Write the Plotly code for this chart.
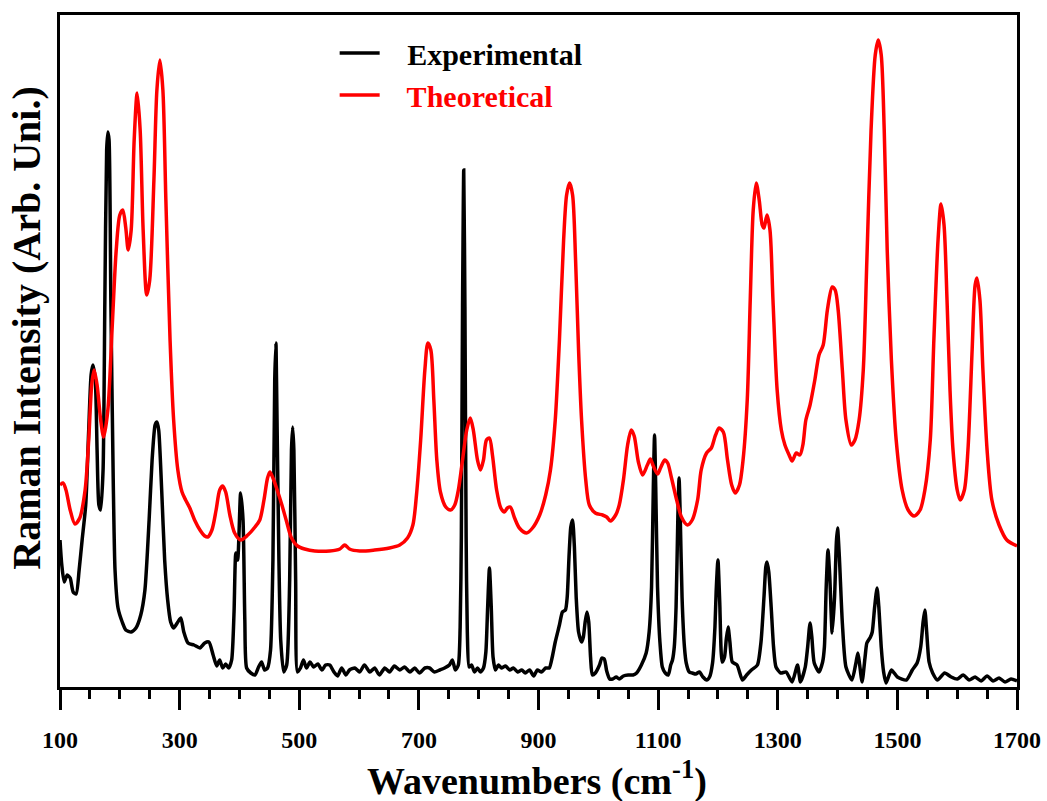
import plotly.graph_objects as go

# Experimental Raman spectrum (wavenumber in cm-1, intensity in arbitrary units)
exp_wavenumber = [
    100, 103, 107, 112, 117, 122, 127, 132, 137, 143, 148, 152, 155, 159, 162, 165, 168, 172, 175, 178,
    180, 182, 185, 189, 192, 197, 204, 210, 219, 227, 235, 242, 249, 254, 259, 262, 265, 270, 275, 280,
    285, 290, 297, 302, 307, 314, 324, 334, 342, 349, 356, 362, 367, 372, 377, 382, 387, 391, 394, 397,
    402, 406, 409, 412, 419, 426, 432, 437, 442, 447, 452, 456, 459, 461, 462, 466, 469, 474, 479, 484,
    487, 489, 491, 494, 497, 502, 507, 512, 518, 524, 531, 538, 544, 551, 558, 564, 571, 578, 584, 593,
    601, 609, 618, 626, 634, 643, 651, 659, 668, 676, 685, 693, 701, 710, 718, 726, 735, 743, 751, 756,
    761, 766, 769, 771, 773, 775, 777, 779, 781, 784, 788, 793, 798, 803, 808, 812, 815, 818, 821, 824,
    828, 833, 838, 845, 852, 858, 865, 872, 878, 885, 892, 898, 905, 912, 918, 923, 928, 935, 940, 945,
    948, 951, 954, 957, 960, 963, 967, 972, 975, 978, 981, 984, 987, 990, 995, 1002, 1006, 1010, 1014, 1019,
    1024, 1030, 1035, 1042, 1050, 1058, 1064, 1072, 1080, 1085, 1089, 1092, 1094, 1096, 1099, 1103, 1107, 1112, 1117, 1121,
    1124, 1127, 1130, 1133, 1135, 1137, 1140, 1144, 1147, 1152, 1157, 1163, 1169, 1175, 1181, 1186, 1191, 1195, 1197, 1200,
    1203, 1207, 1211, 1214, 1217, 1220, 1224, 1232, 1241, 1248, 1256, 1266, 1272, 1277, 1280, 1282, 1285, 1289, 1293, 1297,
    1305, 1314, 1324, 1333, 1338, 1346, 1350, 1354, 1357, 1361, 1369, 1375, 1378, 1381, 1384, 1387, 1391, 1395, 1398, 1400,
    1403, 1408, 1414, 1424, 1431, 1434, 1437, 1441, 1446, 1449, 1455, 1458, 1462, 1466, 1469, 1473, 1477, 1481, 1490, 1500,
    1515, 1525, 1533, 1539, 1543, 1546, 1549, 1553, 1559, 1567, 1579, 1590, 1600, 1610, 1620, 1630, 1640, 1650, 1660, 1670,
    1680, 1690, 1700,
]
exp_intensity = [
    147, 122, 105, 112, 109, 95, 93, 117, 147, 182, 257, 312, 322, 307, 237, 182, 177, 217, 387, 537,
    555, 547, 387, 207, 117, 79, 65, 57, 55, 59, 72, 97, 167, 227, 262, 265, 257, 197, 127, 87,
    65, 59, 65, 69, 55, 44, 42, 39, 44, 45, 32, 21, 27, 19, 23, 19, 27, 75, 134, 127,
    194, 167, 67, 19, 14, 12, 20, 25, 17, 19, 37, 127, 307, 344, 307, 127, 47, 15, 22, 107,
    237, 260, 237, 107, 15, 19, 27, 19, 25, 20, 23, 17, 22, 22, 15, 11, 19, 12, 17, 19,
    15, 22, 15, 19, 12, 19, 15, 21, 17, 20, 15, 19, 14, 19, 19, 15, 17, 19, 22, 27,
    17, 22, 60, 150, 380, 517, 380, 150, 55, 20, 22, 15, 19, 15, 19, 35, 80, 119, 80, 30,
    17, 22, 19, 21, 17, 19, 15, 17, 14, 17, 11, 17, 15, 19, 19, 30, 45, 62, 75, 77,
    90, 130, 160, 167, 140, 90, 55, 45, 50, 65, 75, 65, 30, 12, 14, 22, 29, 28, 16, 8,
    8, 10, 8, 11, 12, 12, 14, 22, 34, 55, 100, 200, 252, 200, 100, 45, 20, 14, 12, 22,
    27, 40, 80, 170, 209, 170, 90, 40, 24, 15, 14, 13, 15, 10, 7, 10, 24, 60, 95, 127,
    85, 25, 30, 48, 60, 45, 25, 22, 7, 12, 17, 22, 45, 90, 120, 125, 115, 80, 40, 20,
    14, 15, 5, 22, 5, 20, 40, 64, 50, 24, 15, 25, 40, 100, 137, 110, 54, 90, 145, 159,
    130, 64, 20, 7, 25, 34, 22, 5, 30, 44, 50, 55, 80, 99, 80, 40, 15, 4, 17, 10,
    7, 17, 24, 40, 65, 77, 55, 25, 14, 7, 14, 10, 8, 12, 7, 10, 6, 11, 6, 9,
    5, 8, 6,
]

# Calculated (theoretical) Raman spectrum
theo_wavenumber = [
    100, 105, 110, 117, 125, 133, 142, 148, 153, 157, 162, 168, 173, 180, 187, 194, 200, 205, 210, 214,
    219, 224, 229, 234, 239, 245, 250, 257, 262, 267, 272, 277, 284, 290, 297, 304, 310, 317, 325, 334,
    342, 347, 354, 361, 367, 372, 377, 384, 392, 402, 414, 426, 434, 441, 447, 451, 456, 462, 471, 479,
    487, 497, 509, 526, 551, 568, 576, 584, 601, 626, 651, 668, 681, 690, 696, 703, 710, 715, 720, 725,
    730, 736, 745, 753, 760, 766, 773, 780, 786, 791, 798, 803, 808, 813, 818, 823, 830, 837, 843, 848,
    853, 860, 868, 880, 890, 902, 912, 920, 928, 935, 942, 947, 952, 957, 962, 967, 972, 979, 985, 995,
    1007, 1014, 1020, 1029, 1035, 1042, 1049, 1055, 1060, 1067, 1074, 1082, 1087, 1092, 1099, 1104, 1111, 1116, 1122, 1131,
    1139, 1149, 1157, 1166, 1172, 1181, 1189, 1196, 1202, 1209, 1216, 1223, 1229, 1236, 1242, 1249, 1254, 1259, 1264, 1269,
    1274, 1277, 1282, 1287, 1292, 1299, 1306, 1312, 1319, 1324, 1331, 1337, 1342, 1347, 1354, 1362, 1369, 1376, 1383, 1391,
    1396, 1401, 1408, 1414, 1423, 1429, 1436, 1443, 1449, 1456, 1463, 1468, 1473, 1478, 1483, 1490, 1498, 1508, 1518, 1528,
    1538, 1546, 1555, 1561, 1568, 1573, 1578, 1583, 1588, 1593, 1600, 1605, 1612, 1618, 1625, 1630, 1633, 1638, 1643, 1650,
    1658, 1670, 1683, 1700,
]
theo_intensity = [
    202, 204, 197, 177, 163, 169, 197, 247, 302, 317, 302, 267, 250, 277, 357, 437, 472, 477, 459, 437,
    457, 547, 594, 557, 457, 392, 407, 507, 597, 627, 597, 487, 347, 267, 217, 195, 187, 179, 167, 157,
    151, 150, 157, 177, 197, 201, 195, 172, 154, 147, 152, 160, 167, 187, 209, 215, 209, 199, 182, 165,
    149, 141, 138, 136, 136, 138, 142, 138, 136, 137, 139, 142, 149, 162, 192, 247, 317, 344, 337, 287,
    227, 195, 180, 177, 182, 197, 227, 257, 269, 257, 227, 217, 227, 247, 249, 232, 197, 179, 175, 179,
    180, 169, 159, 154, 159, 172, 192, 217, 267, 347, 447, 492, 504, 492, 427, 337, 267, 207, 182, 174,
    172, 170, 166, 172, 182, 207, 242, 257, 251, 225, 212, 222, 228, 221, 213, 219, 227, 224, 210, 187,
    170, 162, 167, 187, 217, 234, 239, 252, 259, 255, 227, 202, 194, 202, 227, 287, 387, 477, 504, 487,
    462, 459, 472, 457, 387, 297, 257, 242, 232, 226, 234, 232, 242, 267, 282, 307, 332, 342, 377, 400,
    397, 377, 317, 267, 242, 247, 267, 317, 427, 557, 632, 647, 632, 557, 437, 327, 247, 197, 177, 171,
    177, 197, 247, 347, 447, 483, 462, 387, 297, 237, 197, 187, 197, 237, 337, 402, 409, 387, 317, 237,
    187, 162, 147, 141,
]

tick_values = [100, 300, 500, 700, 900, 1100, 1300, 1500, 1700]
tick_labels = [str(v) for v in tick_values]

serif = "Liberation Serif, Times New Roman, serif"

fig = go.Figure()
fig.add_trace(go.Scatter(
    x=exp_wavenumber, y=exp_intensity, mode="lines",
    name="   Experimental",
    line=dict(color="black", width=3.5, shape="spline", smoothing=0.6),
))
fig.add_trace(go.Scatter(
    x=theo_wavenumber, y=theo_intensity, mode="lines",
    name="<span style='color:#ff0000'>   Theoretical</span>",
    line=dict(color="#ff0000", width=3.5, shape="spline", smoothing=0.8),
))

fig.update_layout(
    width=1047, height=801,
    margin=dict(l=60, r=30, t=15, b=114, autoexpand=False),
    paper_bgcolor="white", plot_bgcolor="white",
    font=dict(family=serif, color="black"),
    showlegend=True,
    legend=dict(
        x=0.287, y=0.982, xanchor="left", yanchor="top",
        bgcolor="rgba(0,0,0,0)",
        font=dict(family=serif, size=30, color="black", weight="bold"),
        itemwidth=40, tracegroupgap=0,
    ),
    xaxis=dict(
        range=[100, 1700], showgrid=False, zeroline=False, automargin=False,
        showline=True, linecolor="black", linewidth=3, mirror=True,
        tickmode="array", tickvals=tick_values, ticktext=tick_labels,
        ticks="outside", ticklen=20, tickwidth=2.5, tickcolor="black",
        ticklabelstandoff=9, ticklabeloverflow="allow",
        tickfont=dict(family=serif, size=24, color="black", weight="bold"),
        minor=dict(dtick=50, tick0=100, ticks="outside", ticklen=9, tickwidth=2.5, tickcolor="black"),
    ),
    yaxis=dict(
        range=[0, 672], showgrid=False, zeroline=False, automargin=False,
        showline=True, linecolor="black", linewidth=3, mirror=True,
        showticklabels=False, ticks="",
    ),
    annotations=[
        dict(text="Wavenumbers (cm<sup>-1</sup>)", xref="paper", yref="paper",
             x=0.498, y=-0.136, xanchor="center", yanchor="middle", showarrow=False,
             font=dict(family=serif, size=38, color="black", weight="bold")),
        dict(text="Raman Intensity (Arb. Uni.)", xref="paper", yref="paper",
             x=-0.035, y=0.534, xanchor="center", yanchor="middle", showarrow=False,
             textangle=-90,
             font=dict(family=serif, size=40, color="black", weight="bold")),
    ],
)

fig.write_html("out.html")
